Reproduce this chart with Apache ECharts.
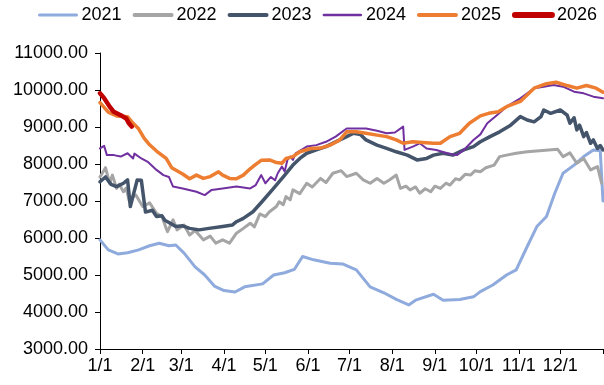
<!DOCTYPE html>
<html>
<head>
<meta charset="utf-8">
<script src="https://cdn.jsdelivr.net/npm/echarts@6/dist/echarts.min.js"></script>
<style>
  html, body { margin: 0; padding: 0; background: #fff; }
  #chart { width: 604px; height: 385px; }
</style>
</head>
<body>
<div id="chart"></div>
<script>
// x = day of year (0 = 1 Jan), y = value
const monthStarts = [0, 31, 59, 90, 120, 151, 181, 212, 243, 273, 304, 334, 365];
const monthLabels = ['1/1', '2/1', '3/1', '4/1', '5/1', '6/1', '7/1', '8/1', '9/1', '10/1', '11/1', '12/1'];
const yTicks = [3000, 4000, 5000, 6000, 7000, 8000, 9000, 10000, 11000];

const s2021 = [
  [0, 5950], [6, 5680], [13, 5570], [20, 5600], [28, 5680], [36, 5790], [43, 5860],
  [50, 5790], [55, 5810], [61, 5590], [69, 5220], [76, 5000], [83, 4700], [90, 4580],
  [98, 4540], [105, 4680], [118, 4760], [126, 5000], [134, 5060], [141, 5150],
  [147, 5500], [155, 5410], [167, 5320], [176, 5300], [186, 5140], [196, 4680],
  [206, 4520], [215, 4340], [224, 4190], [229, 4320], [242, 4480], [249, 4320],
  [261, 4340], [271, 4410], [276, 4550], [285, 4730], [295, 5000], [302, 5140],
  [310, 5770], [317, 6310], [324, 6580], [330, 7210], [336, 7750], [344, 7970],
  [351, 8200], [358, 8380], [363, 8360], [365, 7000]
];

const s2022 = [
  [0, 7650], [4, 7900], [7, 7480], [9, 7700], [12, 7340], [14, 7450], [17, 7250],
  [19, 7350], [21, 7030], [26, 7160], [31, 6850], [36, 6950], [41, 6670], [45, 6580],
  [48, 6260], [49, 6170], [53, 6490], [56, 6220], [61, 6350], [65, 6080], [69, 6200],
  [75, 5950], [80, 6050], [84, 5860], [89, 5950], [94, 5860], [99, 6130], [104, 6260],
  [109, 6400], [112, 6300], [116, 6650], [120, 6580], [123, 6710], [128, 6850],
  [130, 6980], [133, 6900], [135, 7120], [138, 7030], [140, 7300], [145, 7200],
  [150, 7480], [154, 7380], [160, 7610], [164, 7500], [169, 7750], [175, 7820],
  [179, 7660], [186, 7750], [191, 7570], [196, 7480], [201, 7610], [206, 7480],
  [210, 7570], [215, 7700], [218, 7340], [222, 7400], [225, 7300], [229, 7380],
  [232, 7210], [236, 7330], [240, 7250], [243, 7400], [247, 7340], [251, 7480],
  [254, 7430], [258, 7600], [261, 7570], [265, 7720], [269, 7700], [272, 7820],
  [276, 7790], [280, 7900], [286, 7970], [290, 8200], [295, 8240], [302, 8290],
  [310, 8330], [319, 8360], [332, 8400], [336, 8200], [341, 8300], [346, 8020],
  [351, 8150], [356, 7840], [361, 7930], [364, 7480]
];

const s2023 = [
  [0, 7520], [4, 7650], [8, 7450], [12, 7390], [17, 7480], [20, 7570], [22, 6850],
  [27, 7570], [30, 7560], [33, 6700], [38, 6750], [41, 6580], [45, 6600], [47, 6480],
  [50, 6420], [55, 6310], [60, 6330], [65, 6260], [72, 6220], [79, 6260], [89, 6310],
  [96, 6350], [99, 6440], [104, 6530], [111, 6710], [118, 7000], [125, 7300],
  [133, 7650], [140, 7970], [145, 8150], [150, 8290], [157, 8380], [164, 8470],
  [171, 8600], [179, 8740], [184, 8830], [189, 8800], [193, 8650], [201, 8510],
  [208, 8420], [215, 8330], [223, 8240], [230, 8110], [237, 8150], [242, 8240],
  [249, 8290], [256, 8240], [264, 8380], [271, 8470], [276, 8600], [283, 8740],
  [290, 8870], [298, 9050], [305, 9280], [310, 9190], [315, 9140], [320, 9280],
  [322, 9460], [327, 9370], [334, 9460], [339, 9320], [341, 9100], [344, 9250],
  [346, 8920], [348, 9050], [351, 8740], [353, 8850], [356, 8560], [358, 8650],
  [361, 8420], [363, 8500], [365, 8380]
];

const s2024 = [
  [0, 8420], [3, 8490], [5, 8240], [10, 8240], [15, 8200], [20, 8290], [24, 8150],
  [25, 8280], [30, 8150], [35, 8050], [41, 7840], [46, 7700], [50, 7650], [53, 7390],
  [60, 7340], [70, 7250], [76, 7160], [81, 7300], [89, 7340], [99, 7390], [109, 7340],
  [113, 7430], [117, 7700], [120, 7480], [124, 7650], [127, 7560], [129, 7750],
  [132, 7930], [134, 7800], [136, 8110], [138, 8200], [140, 8110], [142, 8290],
  [150, 8470], [157, 8510], [164, 8600], [171, 8740], [179, 8960], [186, 8960],
  [193, 8960], [201, 8900], [208, 8830], [214, 8850], [220, 9010], [221, 8380],
  [227, 8470], [232, 8560], [237, 8420], [244, 8380], [252, 8290], [259, 8240],
  [264, 8380], [271, 8650], [276, 8800], [281, 9100], [288, 9320], [295, 9550],
  [305, 9775], [315, 10045], [322, 10090], [329, 10135], [336, 10090], [344, 9955],
  [351, 9910], [358, 9820], [365, 9775]
];

const s2025 = [
  [0, 9660], [6, 9400], [12, 9300], [20, 9280], [24, 9100], [28, 8950], [32, 8700],
  [36, 8520], [41, 8350], [48, 8150], [52, 7900], [60, 7730], [65, 7600], [70, 7700],
  [75, 7610], [80, 7660], [86, 7790], [89, 7700], [94, 7610], [99, 7600], [104, 7700],
  [108, 7840], [113, 7990], [117, 8100], [123, 8110], [128, 8040], [132, 8020],
  [135, 8150], [140, 8200], [145, 8330], [153, 8420], [160, 8430], [167, 8510],
  [174, 8650], [179, 8870], [186, 8870], [193, 8830], [201, 8780], [208, 8740],
  [215, 8650], [220, 8560], [227, 8600], [234, 8580], [242, 8560], [247, 8560],
  [254, 8740], [261, 8830], [268, 9100], [276, 9300], [282, 9370], [289, 9410],
  [295, 9550], [305, 9690], [315, 10050], [324, 10170], [331, 10210], [339, 10120],
  [346, 10050], [353, 10120], [360, 10050], [365, 9940]
];

const s2026 = [
  [0, 9910], [3, 9780], [7, 9550], [10, 9410], [15, 9320], [19, 9230], [21, 9100], [23, 9010]
];

const seriesDefs = [
  { name: '2021', data: s2021, color: '#8FAADC', width: 3, legendWidth: 3 },
  { name: '2022', data: s2022, color: '#A5A5A5', width: 3, legendWidth: 4 },
  { name: '2023', data: s2023, color: '#44546A', width: 3.5, legendWidth: 4 },
  { name: '2024', data: s2024, color: '#7030A0', width: 2, legendWidth: 2.5 },
  { name: '2025', data: s2025, color: '#ED7D31', width: 3.5, legendWidth: 4 },
  { name: '2026', data: s2026, color: '#C00000', width: 4.5, legendWidth: 6 }
];

const font = 'Arial, "Liberation Sans", sans-serif';
const chart = echarts.init(document.getElementById('chart'), null, { renderer: 'canvas' });

chart.setOption({
  animation: false,
  backgroundColor: '#fff',
  textStyle: { fontFamily: font },
  legend: {
    top: 6,
    left: 38,
    width: 566,
    padding: 0,
    itemWidth: 37,
    itemHeight: 10,
    itemGap: 11,
    itemStyle: { opacity: 0 },
    textStyle: { fontSize: 18, color: '#000', fontFamily: font },
    data: seriesDefs.map(s => ({
      name: s.name,
      lineStyle: { width: s.legendWidth, color: s.color, cap: 'round' }
    }))
  },
  grid: { left: 100, right: 1, top: 53, bottom: 36, containLabel: false },
  xAxis: {
    type: 'value',
    min: 0,
    max: 365,
    axisLine: { lineStyle: { color: '#000', width: 1 } },
    axisTick: { show: true, customValues: monthStarts, length: 5, lineStyle: { color: '#000' } },
    axisLabel: {
      customValues: monthStarts.slice(0, 12),
      formatter: v => monthLabels[monthStarts.indexOf(v)],
      fontSize: 18, color: '#000', margin: 8, fontFamily: font
    },
    splitLine: { show: false }
  },
  yAxis: {
    type: 'value',
    min: yTicks[0],
    max: yTicks[yTicks.length - 1],
    interval: 1000,
    axisLine: { show: true, lineStyle: { color: '#000', width: 1 } },
    axisTick: { show: true, length: 5, lineStyle: { color: '#000' } },
    axisLabel: {
      formatter: v => v.toFixed(2),
      fontSize: 18, color: '#000', margin: 12, fontFamily: font
    },
    splitLine: { show: false }
  },
  series: seriesDefs.map(s => ({
    name: s.name,
    type: 'line',
    data: s.data,
    symbol: 'none',
    showSymbol: false,
    color: s.color,
    lineStyle: { color: s.color, width: s.width, join: 'round', cap: 'round' },
    emphasis: { disabled: true }
  }))
});
</script>
</body>
</html>
